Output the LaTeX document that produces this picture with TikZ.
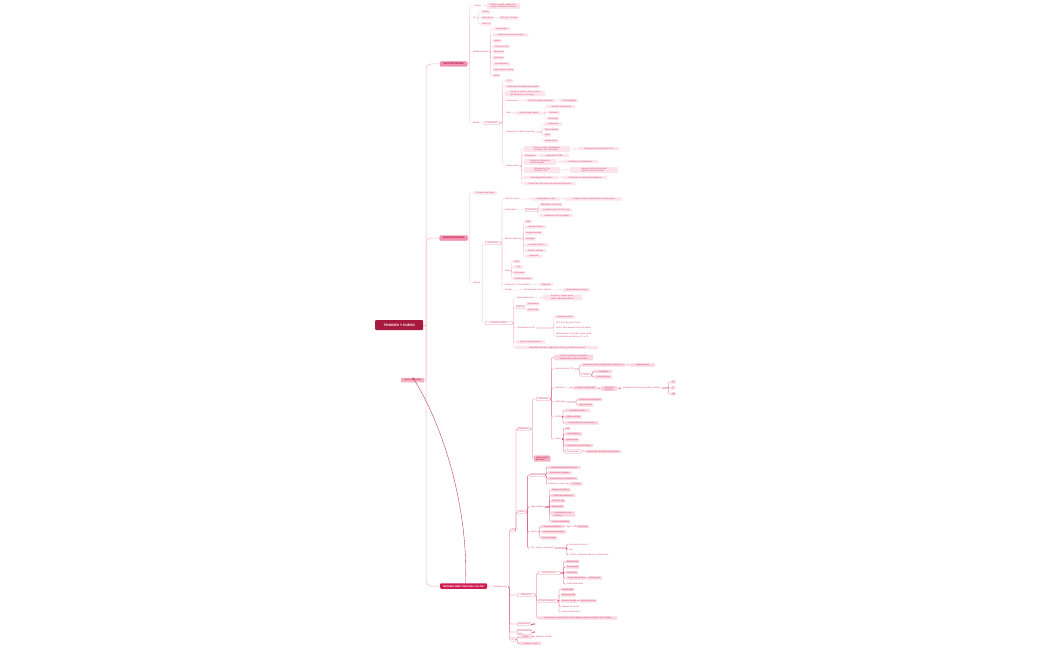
\documentclass[tikz,border=0pt]{standalone}
\usepackage{fontspec}
\newfontfamily\mf{Liberation Sans}
\usetikzlibrary{calc,arrows.meta}
\definecolor{lf}{HTML}{FCE4EC}
\definecolor{lfb}{HTML}{FAD6E1}
\definecolor{tx}{HTML}{D6456E}
\definecolor{bd}{HTML}{F08CA8}
\definecolor{cl}{HTML}{F6B6C7}
\definecolor{clb}{HTML}{DE4D7E}
\definecolor{rootc}{HTML}{A8193F}
\definecolor{hc}{HTML}{F391AE}
\definecolor{htx}{HTML}{A3123E}
\definecolor{mc}{HTML}{CF1D4F}
\definecolor{kc}{HTML}{F7AFC2}
\definecolor{relc}{HTML}{B0305A}
\tikzset{
 base/.style={font=\mf\fontsize{2.1}{2.5}\selectfont, inner xsep=0.8pt, inner ysep=0.7pt, rounded corners=0.6pt, text=tx, text height=1.55pt, text depth=0.45pt},
 leaf/.style={base, fill=lf},
 leafb/.style={base, fill=lfb},
 lab/.style={base, minimum width=0pt},
 bx/.style={base, draw=bd, line width=0.25pt, fill=white},
 pkb/.style={base, draw=bd, line width=0.25pt, fill=kc, text=htx},
 two/.style={align=left, text height={}, text depth={}},
 conn/.style={draw=cl, line width=0.3pt, rounded corners=1pt},
 connb/.style={draw=clb, line width=0.3pt, rounded corners=1pt},
 rootconn/.style={draw=cl, line width=0.5pt, rounded corners=5pt},
 mainb/.style={font=\mf\bfseries\fontsize{2.4}{3}\selectfont, fill=hc, draw=bd, line width=0.3pt, text=htx, minimum height=5pt, inner xsep=1pt, inner ysep=0.6pt, rounded corners=1pt, anchor=west},
 circ/.style={circle, draw=clb, line width=0.2pt, fill=white, minimum size=2.2pt, inner sep=0pt},
}
\newcommand\mnode[6][leaf]{\node[minimum width=#5pt,#1,anchor=west] (#2) at (#3,#4) {#6};}
\newcommand\mlink[4][conn]{\foreach \mchild in {#4}{\draw[#1] let \p1=(#2.east) in (\p1) -- (#3pt,\y1) |- (\mchild.west);}}
\begin{document}
\begin{tikzpicture}[x=1pt,y=-1pt]
\fill[white] (0,0) rectangle (1050,650);
\useasboundingbox (0,0) rectangle (1050,650);
% ---------- main nodes
\node[fill=rootc, text=white, font=\mf\bfseries\fontsize{3.3}{4}\selectfont, minimum width=48pt, minimum height=10pt, rounded corners=1pt, anchor=west, inner sep=1pt] (R) at (375,325) {TIROIDES Y HUESO};
\node[mainb, minimum width=27pt] (H0) at (440,64) {HIPOTIROIDISMO};
\node[mainb, minimum width=28pt] (P0) at (439.5,238) {HIPERTIROIDISMO};
\node[base, fill=kc, text=htx, minimum width=23pt, minimum height=4.5pt, anchor=west] (K) at (401,380) {Cáncer de tiroides};
\node[font=\mf\bfseries\fontsize{2.4}{3}\selectfont, fill=mc, text=white, minimum width=47pt, minimum height=5.5pt, inner xsep=1pt, inner ysep=0.6pt, rounded corners=1pt, anchor=west] (M) at (440,586) {METABOLISMO ÓSEO DEL CALCIO};
% ---------- HIPOTIROIDISMO
\mnode[lab]{a1}{473}{6}{10}{Causas}
\mnode[leaf,two]{a1a}{487}{6}{33}{Déficit de yodo, Hashimoto,\\cirugía, radioyodo, fármacos}
\mnode[lab]{a2}{472}{18}{5}{Dx}
\mnode{a2a}{481}{12}{9}{Clínica}
\mnode{a2b}{481}{18}{13}{Laboratorio}
\mnode{a2b1}{499}{18}{17}{TSH alta, T4L baja}
\mnode{a2c}{481}{24}{9}{Anti-TPO}
\mnode[lab]{a3}{472}{52}{17}{Manifestaciones}
\mnode{a3a}{493}{29}{17}{Bradicardia}
\mnode{a3b}{493}{35}{35}{Intolerancia al frío y letargia}
\mnode{a3c}{493}{41}{7}{Edema}
\mnode{a3d}{493}{46.5}{17}{Piel seca, fría}
\mnode{a3e}{493}{52}{9}{Mixedema}
\mnode{a3f}{493}{58}{10}{Depresión}
\mnode{a3g}{493}{64}{17}{Estreñimiento}
\mnode{a3h}{493}{70}{21}{Hiporreflexia aquílea}
\mnode{a3i}{493}{75.5}{7}{Bocio}
\mnode[lab]{a4}{472}{123}{8}{Manejo}
\mnode[bx]{a4a}{484}{123}{15}{Tratamiento}
\mnode{b1}{505}{81}{8}{LT4}
\mnode{b2}{505}{86.5}{35}{Sustitución hormonal de por vida}
\mnode[leaf,two]{b3}{505}{93.5}{40}{Tomar en ayunas, 30 min antes\\del desayuno y con agua}
\mnode[lab]{b4}{505}{100.5}{15}{Presentación}
\mnode{b4a}{526}{100.5}{29}{25 a 150 mcg/comprimido}
\mnode{b4b}{560}{100.5}{18}{1,6 mcg/kg/día}
\mnode[lab]{b5}{505}{113}{5}{Dosis}
\mnode{b5a}{515}{113}{27}{Ajustar según edad}
\mnode{b5a1}{547}{106.5}{28}{Jóvenes: dosis plena}
\mnode{b5a2}{547}{112.5}{13}{Ancianos}
\mnode{b5a3}{547}{118.5}{12}{Coronarios}
\mnode[lab]{b6}{505}{132}{32}{Cambios en la dosis requerida}
\mnode{b6a}{544}{124}{18}{Embarazo}
\mnode{b6b}{544}{129.5}{14}{Peso corporal}
\mnode{b6c}{544}{135}{6}{Edad}
\mnode{b6d}{544}{141}{13}{Malabsorción}
\mnode[lab]{b7}{505}{166}{12}{Interacciones}
\mnode[leaf,two]{c1}{524}{149}{46}{Calcio, hierro, colestiramina,\\sucralfato, IBP, antiácidos}
\mnode{c1a}{578}{148.5}{41}{Disminuyen la absorción de LT4}
\mnode{c2}{524}{155.5}{12}{Estrógenos}
\mnode{c2a}{539}{155.5}{30}{Aumentan la TBG}
\mnode[leaf,two]{c3}{524}{162}{32}{Fenitoína, rifampicina,\\carbamazepina}
\mnode{c3a}{563}{161.5}{35}{Aceleran su metabolismo}
\mnode[leaf,two]{c4}{524}{170}{36}{Amiodarona, litio,\\interferón, ITK}
\mnode[leaf,two]{c4a}{570}{170}{48}{Inducen disfunción tiroidea;\\vigilar la función tiroidea}
\mnode{c5}{524}{177.5}{34}{Anticoagulantes orales}
\mnode{c5a}{563}{177.5}{44}{Potencian su efecto anticoagulante}
\mnode{c6}{524}{183.5}{51}{Control de TSH a las 6–8 semanas del ajuste}
% ---------- HIPERTIROIDISMO
\mnode{p1}{473}{193}{24}{Formas subclínicas}
\mnode[lab]{p2}{472.5}{283}{8}{Manejo}
\mnode[bx]{q1}{485}{243}{15}{Tratamiento}
\mnode[lab]{r1}{504}{199}{22}{Tratar la causa}
\mnode{r1a}{532}{199}{28}{Antitiroideos o I-131}
\mnode{r1b}{565}{199}{57}{Cirugía en bocio multinodular o Graves grave}
\mnode[lab]{r2}{504}{210}{19}{Antitiroideos}
\mnode[bx]{r2a}{525}{210}{11}{Tionamidas}
\mnode{r2a1}{540}{204.5}{22}{Metimazol 10–30 mg}
\mnode{r2a2}{540}{210}{32}{Propiltiouracilo 100–300 mg}
\mnode{r2a3}{540}{215.5}{33}{Carbimazol 15–40 mg/día}
\mnode[lab]{r3}{504}{239}{19}{Efectos adversos}
\mnode{r3a}{525}{221.5}{5}{Rash}
\mnode{r3b}{525}{227}{21}{Agranulocitosis}
\mnode{r3c}{525}{233}{17}{Hepatotoxicidad}
\mnode{r3d}{525}{239}{10}{Artralgias}
\mnode{r3e}{525}{245}{23}{Vasculitis ANCA+}
\mnode{r3f}{525}{250.5}{21}{Prurito, urticaria}
\mnode{r3g}{525}{256}{17}{Disgeusia}
\mnode[lab]{r4}{504}{271}{6}{Otros}
\mnode{r4a}{513}{261.5}{7}{Yodo}
\mnode{r4b}{513}{267}{10}{Litio}
\mnode{r4c}{513}{273}{12}{Corticoides}
\mnode{r4d}{513}{278.5}{20}{Betabloqueantes}
\mnode[lab]{r5}{504}{284.5}{32}{Radioyodo (I-131) definitivo}
\mnode{r5a}{539}{284.5}{14}{Ablación}
\mnode[lab]{r6}{504}{290}{11}{Cirugía}
\mnode[lab]{r6a}{523}{290}{39}{Tiroidectomía total o subtotal}
\mnode{r6b}{563}{290}{27}{Hipotiroidismo posterior}
\mnode[bx]{q2}{485}{323}{27}{Tormenta tiroidea}
\mnode[lab]{s1}{516}{298}{24}{Desencadenantes}
\mnode[leaf,two]{s1a}{543}{297.5}{39}{Infección, cirugía, parto,\\yodo o abandono del tto.}
\mnode[bx]{s2}{516}{307}{8}{Signos}
\mnode{s2a}{526.5}{304}{13}{Hipertermia}
\mnode{s2b}{526.5}{310}{12}{Taquicardia}
\mnode[lab]{s3}{516}{328}{35}{Tratamiento en UCI}
\mnode{s3a}{555}{317}{20}{Betabloqueantes}
\mnode[lab]{s3b}{555}{322.5}{32}{PTU 200 mg cada 4 horas}
\mnode[lab]{s3c}{555}{328}{60}{Yodo 1 hora después de la tionamida}
\mnode[lab,two]{s3d}{555}{335.5}{60}{Hidrocortisona 100 mg/8 h para inhibir\\la conversión periférica de T4 a T3}
\mnode{s4}{516}{342}{29}{Soporte hemodinámico}
\mnode{s5}{516}{347.5}{82}{Mortalidad elevada: diagnóstico clínico y tratamiento precoz}
% ---------- METABOLISMO
\mnode[lab]{m1}{492}{587}{16}{Patología ósea}
\mnode[bx]{m2}{510.5}{530}{5}{Ca}
\mnode[bx]{n1}{517}{429}{13}{Regulación}
\mnode[bx]{o1}{536}{399}{14}{Hormonas}
\mnode[leafb,two]{t1}{554}{357.5}{39}{La PTH mantiene la calcemia\\sobre hueso, riñón e intestino}
\mnode[lab]{t2}{554}{369}{24}{Acciones de la PTH}
\mnode[leafb]{t2a}{581}{365}{44}{Resorción ósea y reabsorción renal de Ca}
\mnode[leafb]{t2a1}{630}{365}{25}{Hipercalcemia}
\mnode[bx]{t2b}{581}{375}{10}{Riñón}
\mnode[leafb]{t2b1}{594}{371.5}{18}{Fosfaturia}
\mnode[leafb]{t2b2}{594}{377}{18}{1α-hidroxilasa}
\mnode[lab]{t3}{554}{388}{14}{Vitamina D}
\mnode[leafb]{t3a}{573}{388}{24}{Calcitriol 1,25(OH)2D}
\mnode[leafb,two]{t3b}{601}{388.5}{16}{Absorción\\intestinal}
\mnode[lab]{t3c}{622}{388}{43}{Aumenta la absorción de calcio y fósforo}
\mnode[leafb]{t3c1}{671}{382}{4}{Ca}
\mnode[leafb]{t3c2}{671}{388}{4}{P}
\mnode[leafb]{t3c3}{671}{394}{4}{Mg}
\mnode[lab]{t4}{554}{402}{21}{Calcitonina}
\mnode[leafb]{t4a}{578}{399.5}{24}{Inhibe los osteoclastos}
\mnode[leafb]{t4b}{578}{405}{15}{Hipocalcemia}
\mnode[lab]{t5}{554}{417}{6}{FGF23}
\mnode[leafb]{t5a}{564.5}{410.5}{25}{Fosfaturia renal}
\mnode[leafb]{t5b}{564.5}{417}{17}{Inhibe calcitriol}
\mnode[leafb]{t5c}{564.5}{423}{34}{Producido por los osteocitos}
\mnode[lab]{t6}{554}{439}{6}{Hueso}
\mnode[leafb]{t6a}{565}{428.5}{5}{HA}
\mnode[leafb]{t6b}{565}{434}{17}{Osteoblastos}
\mnode[leafb]{t6c}{565}{440}{14}{Osteoclastos}
\mnode[leafb]{t6d}{565}{445.5}{28}{Osteocitos y matriz ósea}
\mnode[bx]{t6e}{565}{451.5}{16}{Remodelado}
\mnode[leafb]{t6e1}{585}{451.5}{36}{Activación, resorción y formación}
\mnode[pkb,two]{o2}{534}{458.5}{16}{Homeostasis\\del calcio}
\mnode[bx]{n2}{517}{512}{9}{Calcio}
\mnode[bx]{u1}{530}{475}{13}{Hipercalcemia}
\mnode[leafb]{u1a}{547.5}{467.5}{33}{Hiperparatiroidismo primario}
\mnode[leafb]{u1b}{547.5}{473}{24}{Neoplasias malignas}
\mnode[leafb]{u1c}{547.5}{478.5}{30}{Intoxicación por vitamina D}
\mnode[lab]{u1d}{547.5}{484}{23}{Fármacos y otras}
\mnode[leafb]{u1d1}{569.5}{484}{13}{Tiazidas}
\mnode[lab]{u2}{530}{507}{18}{Hipocalcemia}
\mnode[leafb]{u2a}{551}{490}{15}{Hipoparatiroidismo}
\mnode[leafb]{u2b}{551}{495.5}{24}{Déficit de vitamina D}
\mnode[leafb]{u2c}{551}{501}{11}{Déficit de Mg}
\mnode[leafb]{u2d}{551}{506.5}{11}{Pancreatitis}
\mnode[leafb,two]{u2e}{551}{514}{24}{Insuficiencia renal\\crónica}
\mnode[leafb]{u2f}{551}{521.5}{18}{Hueso hambriento}
\mnode[lab]{u3}{530}{532}{8}{Clínica}
\mnode[leafb]{u3a}{541}{526.5}{22}{Hiperexcitabilidad}
\mnode[lab]{u3a1}{565}{526.5}{7}{Signos}
\mnode[leafb]{u3a2}{577}{526.5}{9}{Trousseau}
\mnode[leafb]{u3b}{541}{532}{25}{Parestesias periorales}
\mnode[leafb]{u3c}{541}{538}{16}{QT prolongado}
\mnode[lab]{u4}{530}{548}{38}{Tto.: calcio y vitamina D}
\mnode[lab]{u4a}{568.5}{544.5}{19}{Gluconato cálcico IV}
\mnode[lab]{u4b}{568.5}{549.5}{5}{Mg}
\mnode[lab]{u4c}{568.5}{555}{45}{Crónico: carbonato cálcico y calcitriol oral}
\mnode[bx]{m3}{517}{595}{18}{Tratamiento}
\mnode[bx]{v1}{538}{573}{22}{Antirresortivos}
\mnode[leafb]{v1a}{566}{561.5}{11}{Bifosfonatos}
\mnode[leafb]{v1b}{566}{567}{8}{Denosumab}
\mnode[leafb]{v1c}{566}{572.5}{9}{Raloxifeno}
\mnode[leafb]{v1d}{566}{578}{19}{Terapia hormonal}
\mnode[leafb]{v1d1}{587}{578}{15}{Estrógenos}
\mnode[lab]{v1e}{566}{584}{23}{Calcitonina nasal}
\mnode[bx]{v2}{538}{601}{19}{Osteoformadores}
\mnode[leafb]{v2a}{561}{589.5}{13}{Teriparatida}
\mnode[leafb]{v2b}{561}{595}{9}{Abaloparatida}
\mnode[leafb]{v2c}{561}{601}{14}{Romosozumab}
\mnode[leafb]{v2c1}{580}{601}{15}{Antiesclerostina}
\mnode[lab]{v2d}{561}{606.5}{22}{Máximo 24 meses}
\mnode[lab]{v2e}{561}{612}{25}{Luego antirresortivo}
\mnode[leafb]{v3}{538}{618}{79}{Suplementar calcio (1000–1200 mg/día) y vitamina D (800–1000 UI/día)}
\mnode[bx]{m4}{517}{624}{14}{Seguimiento}
\mnode[bx,two]{m5}{517}{632}{14}{Densitometría\\ósea}
\node[circ] (m4c) at (534,624) {};
\node[circ] (m5c) at (534,632) {};
\mnode[bx]{m6}{510.5}{639.5}{5}{Dx}
\mnode[leafb]{m6a}{519}{637}{13}{FRAX}
\mnode[lab]{m6a1}{535}{637}{15}{Riesgo a 10 años}
\mnode[leafb]{m6b}{519}{643.5}{22}{T-score < −2,5}
% ---------- root connectors
\draw[rootconn] (R.east) -- (426,325);
\foreach \mt in {H0,P0,M}{\draw[rootconn] (426,325) |- (\mt.west);}
\draw[draw=cl, line width=0.5pt, rounded corners=0.8pt] (426,325) |- (K.east);
% ---------- links HIPO
\mlink{H0}{469.5}{a1,a2,a3,a4}
\mlink{a1}{485}{a1a}
\mlink{a2}{478.5}{a2a,a2b,a2c}
\mlink{a2b}{496.5}{a2b1}
\mlink{a3}{490.5}{a3a,a3b,a3c,a3d,a3e,a3f,a3g,a3h,a3i}
\mlink{a4}{482}{a4a}
\mlink{a4a}{502.5}{b1,b2,b3,b4,b5,b6,b7}
\mlink{b4}{523.5}{b4a}
\mlink{b4a}{557.5}{b4b}
\mlink{b5}{513}{b5a}
\mlink{b5a}{545}{b5a1,b5a2,b5a3}
\mlink{b6}{542}{b6a,b6b,b6c,b6d}
\mlink{b7}{521.7}{c1,c2,c3,c4,c5,c6}
\mlink{c1}{574.5}{c1a}
\mlink{c2}{537.5}{c2a}
\mlink{c3}{560}{c3a}
\mlink{c4}{566.5}{c4a}
\mlink{c5}{560.5}{c5a}
% ---------- links HIPER
\mlink{P0}{469.5}{p1,p2}
\mlink{p2}{482.5}{q1,q2}
\mlink{q1}{502}{r1,r2,r3,r4,r5,r6}
\mlink{r1}{530}{r1a}
\mlink{r1a}{562.5}{r1b}
\mlink{r2}{523}{r2a}
\mlink{r2a}{538.5}{r2a1,r2a2,r2a3}
\mlink{r3}{523.5}{r3a,r3b,r3c,r3d,r3e,r3f,r3g}
\mlink{r4}{511.7}{r4a,r4b,r4c,r4d}
\mlink{r5}{536.5}{r5a}
\mlink{r6}{521}{r6a}
\mlink{r6a}{560.5}{r6b}
\mlink{q2}{513.7}{s1,s2,s3,s4,s5}
\mlink{s1}{541}{s1a}
\mlink{s2}{525}{s2a,s2b}
\mlink{s3}{553.5}{s3a,s3b,s3c,s3d}
% ---------- links METABOLISMO
\mlink{M}{489.5}{m1}
\mlink[connb]{m1}{509.5}{m2,m3,m4,m5,m6}
\mlink[connb]{m2}{516}{n1,n2}
\mlink[connb]{n1}{532.5}{o1,o2}
\mlink[connb]{o1}{551.5}{t1,t2,t3,t4,t5,t6}
\mlink[connb]{t2}{579.5}{t2a,t2b}
\mlink[connb]{t2a}{627.5}{t2a1}
\mlink[connb]{t2b}{592.3}{t2b1,t2b2}
\mlink[connb]{t3}{571}{t3a}
\mlink[connb]{t3a}{599}{t3b}
\mlink[connb]{t3b}{619.5}{t3c}
\mlink[connb]{t3c}{668.5}{t3c1,t3c2,t3c3}
\mlink[connb]{t4}{576.5}{t4a,t4b}
\mlink[connb]{t5}{562.9}{t5a,t5b,t5c}
\mlink[connb]{t6}{563.2}{t6a,t6b,t6c,t6d,t6e}
\mlink[connb]{t6e}{583}{t6e1}
\mlink[connb]{n2}{527.6}{u1,u2,u3,u4}
\mlink[connb]{u1}{546.2}{u1a,u1b,u1c,u1d}
\mlink[connb]{u1d}{567.5}{u1d1}
\mlink[connb]{u2}{549.5}{u2a,u2b,u2c,u2d,u2e,u2f}
\mlink[connb]{u3}{539.5}{u3a,u3b,u3c}
\mlink[connb]{u3a}{563.2}{u3a1}
\mlink[connb]{u3a1}{575.2}{u3a2}
\mlink[connb]{u4}{566.8}{u4a,u4b,u4c}
\mlink[connb]{m3}{536.5}{v1,v2,v3}
\mlink[connb]{v1}{563.7}{v1a,v1b,v1c,v1d,v1e}
\mlink[connb]{v1d}{585.5}{v1d1}
\mlink[connb]{v2}{559}{v2a,v2b,v2c,v2d,v2e}
\mlink[connb]{v2c}{578.3}{v2c1}
\mlink[connb]{m6}{517.3}{m6a,m6b}
\mlink[connb]{m6a}{533.3}{m6a1}
\draw[connb] (m4.east) -- (m4c.west);
\draw[connb] (m5.east) -- (m5c.west);
% ---------- relationship
\draw[relc, line width=0.35pt, -{Stealth[length=2.2pt,width=1.8pt]}] ([xshift=2pt]M.north) .. controls (468,500) and (440,420) .. (K.north);
\end{tikzpicture}
\end{document}
